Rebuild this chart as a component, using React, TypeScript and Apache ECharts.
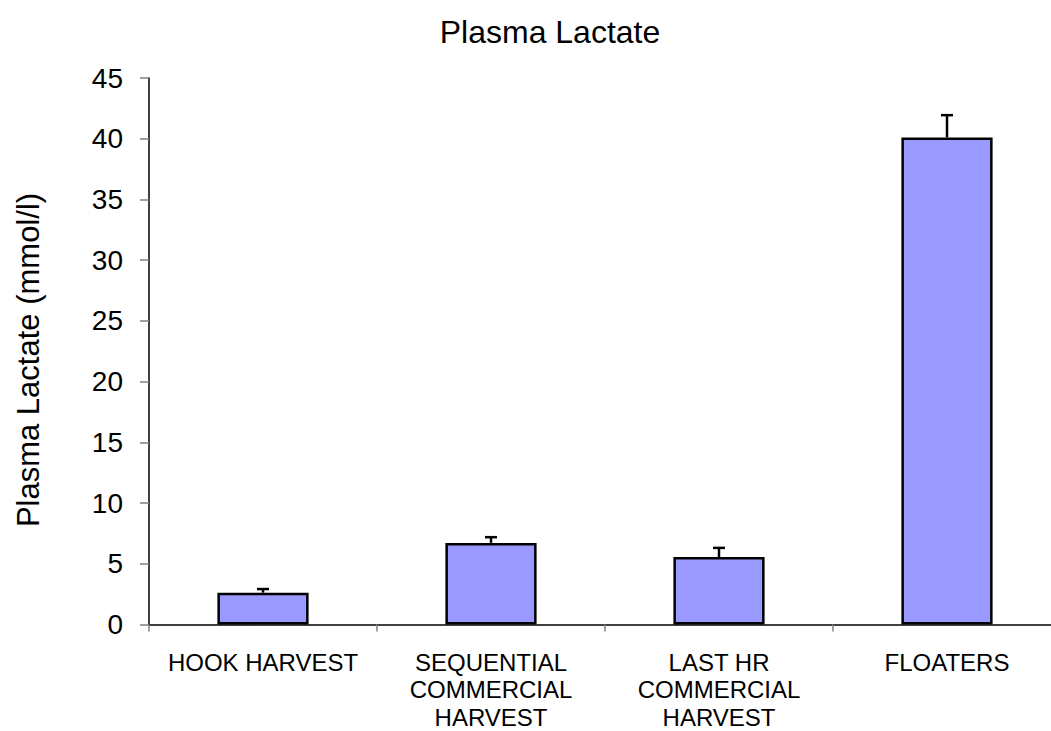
import React, { useEffect, useRef } from "react";
import * as echarts from "echarts";

const categories = [
  "HOOK HARVEST",
  "SEQUENTIAL\nCOMMERCIAL\nHARVEST",
  "LAST HR\nCOMMERCIAL\nHARVEST",
  "FLOATERS",
];
const means = [2.62, 6.72, 5.55, 40.1];
const errors = [0.3, 0.47, 0.76, 1.84];
const yTicks = { min: 0, max: 45, interval: 5 };
const titleText = "Plasma Lactate";
const yName = "Plasma Lactate (mmol/l)";

export default function App() {
  const ref = useRef<HTMLDivElement>(null);
  useEffect(() => {
    const chart = echarts.init(ref.current!, null, { renderer: "svg" });
    const font = "Liberation Sans, Arial, sans-serif";
    chart.setOption({
      animation: false,
      backgroundColor: "#ffffff",
      graphic: [
        {
          type: "text",
          x: 550,
          y: 32,
          style: {
            text: titleText,
            font: `32px ${font}`,
            fill: "#000",
            textAlign: "center",
            textVerticalAlign: "middle",
          },
        },
        {
          type: "text",
          x: 28,
          y: 360,
          rotation: Math.PI / 2,
          style: {
            text: yName,
            font: `31px ${font}`,
            fill: "#000",
            textAlign: "center",
            textVerticalAlign: "middle",
          },
        },
      ],
      grid: { left: 149, top: 78, width: 912, height: 549, containLabel: false },
      xAxis: {
        type: "category",
        data: categories,
        axisLine: { lineStyle: { color: "#000", width: 1.5 } },
        axisTick: { show: true, alignWithLabel: false, interval: 0, length: 7, lineStyle: { color: "#808080", width: 1.5 } },
        axisLabel: {
          interval: 0,
          margin: 24,
          fontFamily: font,
          fontSize: 24,
          lineHeight: 27.5,
          color: "#000",
        },
      },
      yAxis: {
        type: "value",
        min: yTicks.min,
        max: yTicks.max,
        interval: yTicks.interval,
        splitLine: { show: false },
        axisLine: { show: true, lineStyle: { color: "#000", width: 1.5 } },
        axisTick: { show: true, length: 9, lineStyle: { color: "#808080", width: 1.5 } },
        axisLabel: { margin: 26, fontFamily: font, fontSize: 28, color: "#000" },
      },
      series: [
        {
          type: "bar",
          data: means,
          barWidth: "40%",
          itemStyle: { color: "#9999FF", borderColor: "#000", borderWidth: 2.5 },
          z: 2,
        },
        {
          type: "custom",
          z: 3,
          data: means.map((m, i) => [i, m, m + errors[i]]),
          renderItem: (params: any, api: any) => {
            const x = api.value(0);
            const lo = api.coord([x, api.value(1)]);
            const hi = api.coord([x, api.value(2)]);
            const cap = 6;
            const style = { stroke: "#000", lineWidth: 2.5 };
            return {
              type: "group",
              children: [
                { type: "line", shape: { x1: lo[0], y1: lo[1], x2: hi[0], y2: hi[1] }, style },
                { type: "line", shape: { x1: hi[0] - cap, y1: hi[1], x2: hi[0] + cap, y2: hi[1] }, style },
              ],
            };
          },
        },
      ],
    });
    return () => chart.dispose();
  }, []);
  return (
    <div style={{ position: "absolute", left: 0, top: 0, width: 1051, height: 731, overflow: "hidden" }}>
      <div ref={ref} style={{ width: 1075, height: 731 }} />
    </div>
  );
}
